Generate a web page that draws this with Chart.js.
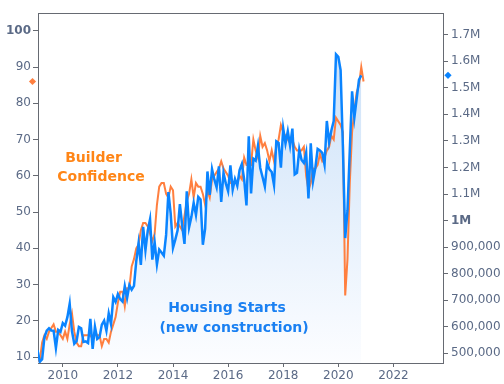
<!DOCTYPE html>
<html>
<head>
<meta charset="utf-8">
<script src="https://cdn.jsdelivr.net/npm/chart.js@4.4.1/dist/chart.umd.min.js"></script>
<style>
html,body{margin:0;padding:0;background:#fff;}
canvas{display:block;}
</style>
</head>
<body>
<canvas id="c" width="504" height="384"></canvas>
<script>
// Monthly series, starting February 2009
const startYear = 2009;
const startMonth = 2;

// NAHB builder confidence index (Feb 2009 - Dec 2020)
const builderConfidence = [
  9, 9, 14, 16, 15, 17, 18, 19, 17, 17, 16,
  15, 17, 15, 19, 22, 17, 14, 13, 13, 16, 16, 16,
  16, 15, 17, 16, 16, 13, 15, 15, 14, 17, 19, 21,
  25, 28, 28, 24, 29, 29, 35, 37, 40, 41, 45, 47,
  47, 46, 44, 42, 44, 52, 57, 58, 58, 55, 54, 57,
  56, 46, 47, 46, 45, 49, 53, 55, 59, 54, 58, 57,
  57, 55, 52, 56, 54, 59, 60, 61, 62, 64, 62, 61,
  60, 58, 58, 58, 58, 60, 59, 65, 63, 63, 63, 70,
  67, 65, 71, 68, 69, 67, 64, 67, 64, 68, 70, 74,
  72, 71, 70, 69, 70, 68, 67, 67, 67, 68, 60, 56,
  58, 62, 62, 63, 66, 64, 65, 67, 68, 71, 70, 76,
  75, 74, 72, 27, 37, 58, 72, 78, 83, 85, 90, 86
];

// Housing starts, annual rate (Feb 2009 - Nov 2020)
const housingStarts = [
  512000, 468000, 478000, 560000, 585000, 594000, 586000, 585000, 520000, 588000, 581000,
  614000, 604000, 636000, 687000, 583000, 536000, 546000, 599000, 594000, 543000, 545000, 539000,
  630000, 517000, 600000, 554000, 561000, 608000, 623000, 585000, 650000, 610000, 711000, 694000,
  723000, 704000, 695000, 753000, 708000, 757000, 740000, 754000, 847000, 915000, 833000, 976000,
  888000, 962000, 1005000, 853000, 919000, 835000, 891000, 880000, 868000, 946000, 1107000, 1026000,
  897000, 928000, 963000, 1062000, 982000, 912000, 1110000, 974000, 1013000, 1067000, 1021000, 1089000,
  1079000, 909000, 970000, 1185000, 1097000, 1194000, 1155000, 1125000, 1204000, 1070000, 1179000, 1140000,
  1111000, 1208000, 1117000, 1157000, 1131000, 1190000, 1213000, 1155000, 1057000, 1317000, 1102000, 1233000,
  1226000, 1281000, 1198000, 1164000, 1128000, 1217000, 1193000, 1183000, 1134000, 1298000, 1292000, 1199000,
  1347000, 1290000, 1336000, 1282000, 1346000, 1174000, 1180000, 1268000, 1228000, 1217000, 1256000, 1083000,
  1291000, 1149000, 1199000, 1270000, 1264000, 1255000, 1210000, 1375000, 1294000, 1340000, 1375000, 1626000,
  1617000, 1567000, 1276000, 934000, 1038000, 1265000, 1487000, 1388000, 1459000, 1530000, 1547000
];

const yearTicks = [2010, 2012, 2014, 2016, 2018, 2020, 2022];
const confidenceTicks = [10, 20, 30, 40, 50, 60, 70, 80, 90, 100];
const startsTicks = [500000, 600000, 700000, 800000, 900000, 1000000, 1100000, 1200000, 1300000, 1400000, 1500000, 1600000, 1700000];

const toX = i => startYear + (startMonth - 1 + i) / 12;
const confData = builderConfidence.map((v, i) => ({x: toX(i), y: v}));
const startsData = housingStarts.map((v, i) => ({x: toX(i), y: v}));

const ORANGE = '#ff7f3f';
const ORANGE_TXT = '#ff8516';
const BLUE = '#0a84ff';
const BLUE_TXT = '#1a80f2';
const AXIS = '#666a72';
const LABEL = '#5b6a86';
const FONT = 'DejaVu Sans';

const overlay = {
  id: 'overlay',
  afterDraw(chart) {
    const {ctx, chartArea: a, scales} = chart;
    ctx.save();
    // top frame line
    ctx.strokeStyle = AXIS;
    ctx.lineWidth = 1;
    ctx.beginPath();
    ctx.moveTo(a.left, a.top + 0.5);
    ctx.lineTo(a.right, a.top + 0.5);
    ctx.stroke();
    // last-value diamonds
    const diamond = (x, y, r, col) => {
      ctx.fillStyle = col;
      ctx.beginPath();
      ctx.moveTo(x, y - r); ctx.lineTo(x + r, y); ctx.lineTo(x, y + r); ctx.lineTo(x - r, y);
      ctx.closePath(); ctx.fill();
    };
    diamond(a.left - 5.5, scales.yL.getPixelForValue(builderConfidence[builderConfidence.length - 1]), 3.6, ORANGE);
    diamond(a.right + 5, scales.yR.getPixelForValue(housingStarts[housingStarts.length - 1]), 3.6, BLUE);
    // annotations
    ctx.font = 'bold 14px "' + FONT + '"';
    ctx.textAlign = 'center';
    ctx.textBaseline = 'middle';
    ctx.fillStyle = ORANGE_TXT;
    ctx.fillText('Builder', a.left + 55.5, 158);
    ctx.fillText('Confidence', a.left + 63, 177);
    ctx.fillStyle = BLUE_TXT;
    ctx.fillText('Housing Starts', a.left + 189, 308);
    ctx.fillText('(new construction)', a.left + 196, 328);
    ctx.restore();
  }
};

const ctx = document.getElementById('c').getContext('2d');
new Chart(ctx, {
  type: 'line',
  data: {
    datasets: [
      {
        label: 'Housing Starts',
        data: startsData,
        yAxisID: 'yR',
        borderColor: BLUE,
        borderWidth: 2.5,
        pointRadius: 0,
        tension: 0,
        fill: 'start',
        backgroundColor: (c) => {
          const a = c.chart.chartArea;
          if (!a) return 'rgba(200,225,250,0.6)';
          const g = c.chart.ctx.createLinearGradient(0, a.top, 0, a.bottom);
          g.addColorStop(0, '#c6def8');
          g.addColorStop(1, '#fcfdff');
          return g;
        }
      },
      {
        label: 'Builder Confidence',
        data: confData,
        yAxisID: 'yL',
        borderColor: ORANGE,
        borderWidth: 2,
        pointRadius: 0,
        tension: 0,
        fill: false
      }
    ]
  },
  options: {
    responsive: false,
    animation: false,
    devicePixelRatio: 1,
    layout: {padding: {top: 13, left: 0, right: 0, bottom: 0}},
    plugins: {
      legend: {display: false},
      tooltip: {enabled: false},
      filler: {drawTime: 'beforeDatasetsDraw'}
    },
    scales: {
      x: {
        type: 'linear',
        min: 2009.1,
        max: 2023.8,
        afterBuildTicks: s => { s.ticks = yearTicks.map(v => ({value: v})); },
        afterFit: s => { s.height = 21; },
        grid: {drawOnChartArea: false, drawTicks: true, tickLength: 4, color: AXIS},
        border: {display: true, color: AXIS, width: 1},
        ticks: {
          color: LABEL,
          font: {family: FONT, size: 12},
          padding: 2,
          maxRotation: 0,
          callback: v => String(v)
        }
      },
      yL: {
        type: 'linear',
        position: 'left',
        min: 8.35,
        max: 104.9,
        afterBuildTicks: s => { s.ticks = confidenceTicks.map(v => ({value: v})); },
        afterFit: s => { s.width = 38; },
        grid: {drawOnChartArea: false, drawTicks: true, tickLength: 5, color: AXIS},
        border: {display: true, color: AXIS, width: 1},
        ticks: {
          color: LABEL,
          padding: 2,
          font: c => ({family: FONT, size: 12, weight: (c.tick && c.tick.value === 100) ? 'bold' : 'normal'}),
          callback: v => String(v)
        }
      },
      yR: {
        type: 'linear',
        position: 'right',
        min: 463500,
        max: 1781700,
        afterBuildTicks: s => { s.ticks = startsTicks.map(v => ({value: v})); },
        afterFit: s => { s.width = 61; },
        grid: {drawOnChartArea: false, drawTicks: true, tickLength: 5, color: AXIS},
        border: {display: true, color: AXIS, width: 1},
        ticks: {
          color: LABEL,
          padding: 3,
          font: c => ({family: FONT, size: 12, weight: (c.tick && c.tick.value === 1000000) ? 'bold' : 'normal'}),
          callback: v => {
            if (v === 1000000) return '1M';
            if (v > 1000000) return (v / 1000000).toFixed(1) + 'M';
            return v.toLocaleString('en-US');
          }
        }
      }
    }
  },
  plugins: [overlay]
});
</script>
</body>
</html>
